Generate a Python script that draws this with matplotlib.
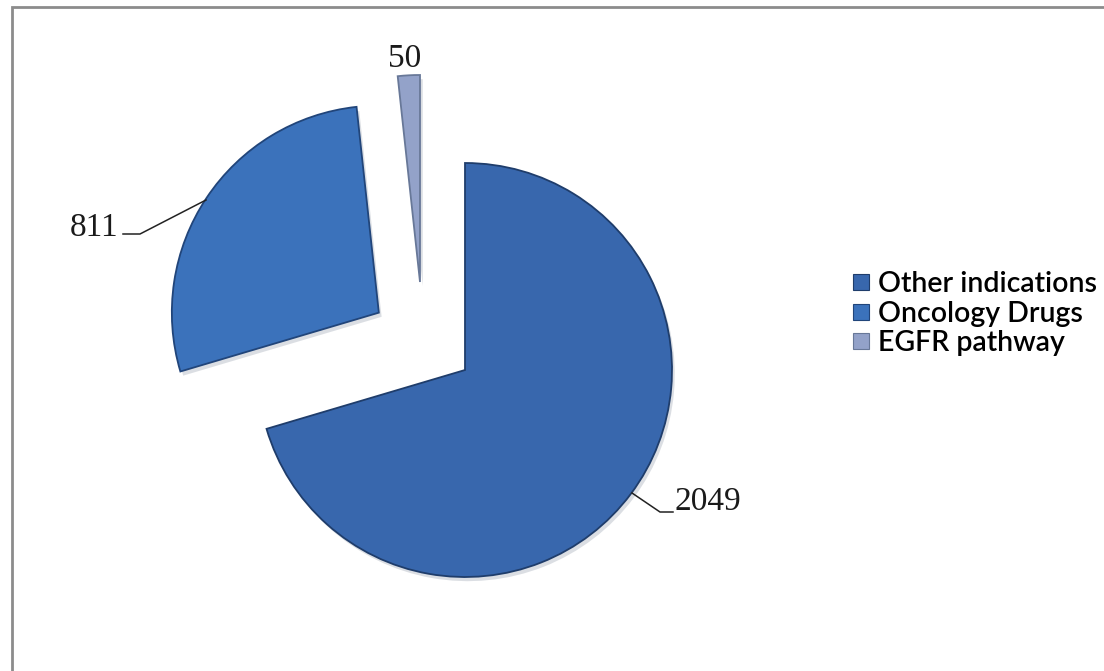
import matplotlib
matplotlib.use("Agg")
import matplotlib.pyplot as plt
import matplotlib.patheffects as pe
from matplotlib.patches import Rectangle
from matplotlib.lines import Line2D

# Data
categories = ["Other indications", "Oncology Drugs", "EGFR pathway"]
values = [2049, 811, 50]
value_labels = ["2049", "811", "50"]

colors = ["#3867ad", "#3b72bb", "#93a2c9"]
edge_colors = ["#1f3d6b", "#21457a", "#687898"]

W, H = 1104, 671
fig = plt.figure(figsize=(W / 100, H / 100), dpi=100)
ax = fig.add_axes([0, 0, 1, 1])

cx, cy, R = 465, H - 370, 207

wedges, _ = ax.pie(values, center=(cx, cy), radius=R, startangle=90,
                   counterclock=False, explode=[0, 0.5 * R, 0],
                   colors=colors, frame=True,
                   wedgeprops=dict(linewidth=1.3))
ax.set_xlim(0, W)
ax.set_ylim(0, H)
ax.set_aspect("equal")
ax.axis("off")

shadow = [pe.SimplePatchShadow(offset=(2, -3), shadow_rgbFace="#9aa3b0",
                               alpha=0.35), pe.Normal()]
for w, ec in zip(wedges, edge_colors):
    w.set_edgecolor(ec)
    w.set_path_effects(shadow)

# the thin slice is pulled further out, up and to the left
wedges[2].set_center((cx - 45, cy + 88))

# value labels with leader lines
lab_font = dict(family="Liberation Serif", fontsize=24, color="#1a1a1a")
ax.text(405, H - 59, value_labels[2], ha="center", va="center", **lab_font)
ax.text(118, H - 228, value_labels[1], ha="right", va="center", **lab_font)
ax.text(674, H - 502, value_labels[0], ha="left", va="center", **lab_font)
ax.plot([123, 140, 206], [H - 234, H - 234, H - 200], color="#222222", lw=1.1)
ax.plot([632, 660, 673], [H - 493, H - 512, H - 512], color="#222222", lw=1.1)

# legend
handles = [Line2D([], [], marker="s", linestyle="none", markersize=12,
                  markerfacecolor=c, markeredgecolor=ec, markeredgewidth=0.8)
           for c, ec in zip(colors, edge_colors)]
ax.legend(handles, categories, loc="upper left",
          bbox_to_anchor=(841 / W, 1 - 260 / H),
          frameon=False, handlelength=0.6, handletextpad=0.3,
          labelspacing=0.12, borderaxespad=0,
          prop=dict(family="Lato", size=20.5, weight="semibold"))

# outer chart border
fig.patches.append(Rectangle((12 / W, -0.1), 1.2, 1.1 - 7 / H,
                             transform=fig.transFigure, fill=False,
                             edgecolor="#8c8c8c", linewidth=2))

fig.savefig("out.png", dpi=100, facecolor="white")
